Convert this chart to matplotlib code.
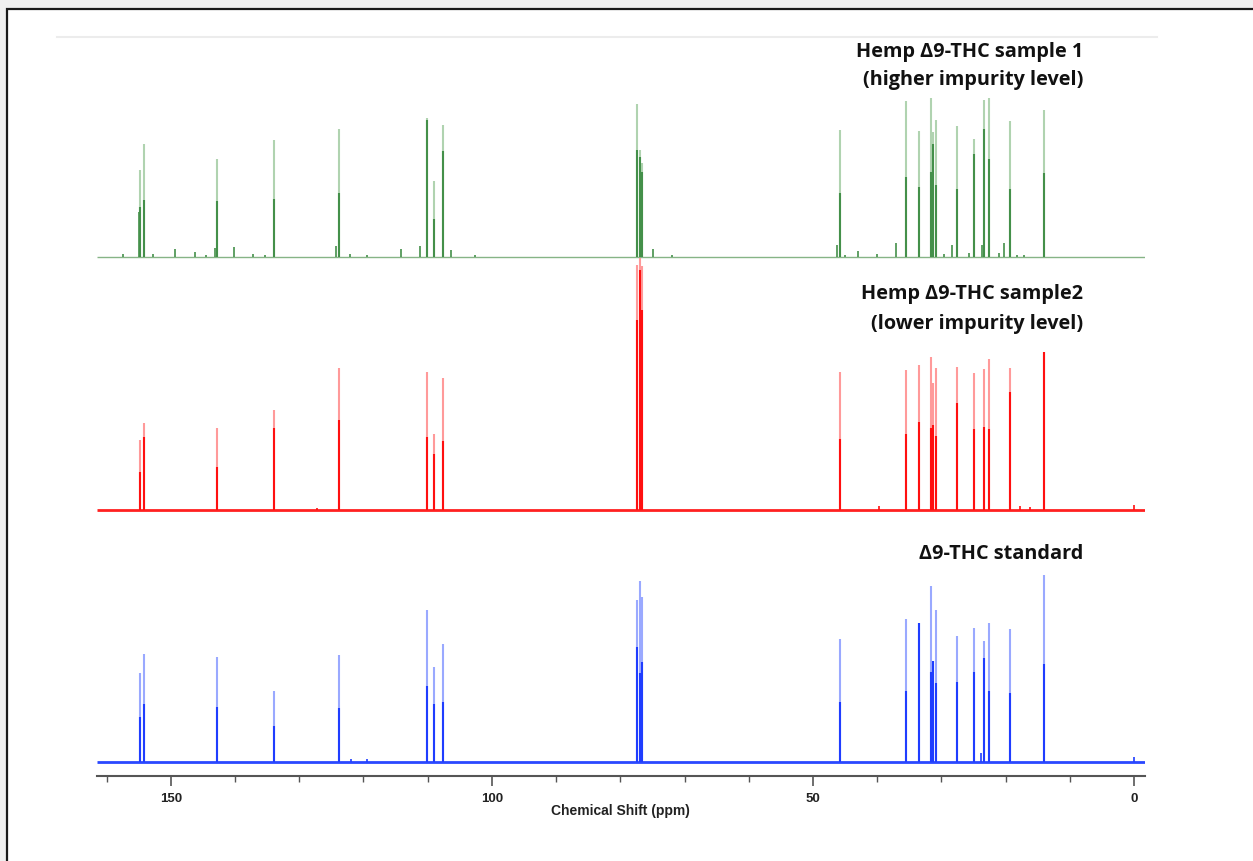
import matplotlib
matplotlib.use('Agg')
import matplotlib.pyplot as plt
from matplotlib.patches import Rectangle
from matplotlib.lines import Line2D
import numpy as np

# 13C NMR peak lists (ppm, apex height, dense-core height)
# heights are in display units above each trace's baseline

# Hemp D9-THC sample 1 (higher impurity level) - green, top
green_ppm = [154.8, 154.2, 142.8, 134.0, 123.8, 110.1, 109.0, 107.6,
             77.4, 77.0, 76.7, 45.8, 35.5, 33.5, 31.6, 31.3, 30.8, 27.6,
             25.0, 23.4, 22.6, 19.3, 14.1]
green_height = [87, 113, 98, 117, 128, 139, 76, 132,
                153, 107, 94, 127, 156, 126, 159, 125, 137, 131,
                118, 157, 159, 136, 147]
green_core = [50, 57, 56, 58, 64, 137, 38, 106,
              107, 100, 85, 64, 80, 70, 85, 113, 72, 68,
              103, 128, 98, 68, 84]
green_imp_ppm = [157.5, 155.0, 152.8, 149.3, 146.3, 144.5, 143.1, 140.2, 137.2,
                 135.4, 124.3, 122.1, 119.5, 114.1, 111.2, 106.3, 102.6, 74.9,
                 72.0, 46.3, 45.0, 43.0, 40.1, 37.1, 29.6, 28.3, 25.7, 23.7,
                 21.0, 20.2, 18.3, 17.2]
green_imp_height = [3, 45, 3, 8, 5, 2, 9, 10, 3,
                    2, 11, 3, 2, 8, 11, 7, 2, 8,
                    2, 12, 2, 6, 3, 14, 3, 12, 4, 12,
                    4, 14, 2, 2]

# Hemp D9-THC sample2 (lower impurity level) - red, middle
red_ppm = [154.8, 154.2, 142.8, 134.0, 123.8, 110.1, 109.0, 107.6,
           77.4, 77.0, 76.7, 45.8, 35.5, 33.5, 31.6, 31.3, 30.8, 27.6,
           25.0, 23.4, 22.6, 19.3, 14.1]
red_height = [70, 87, 82, 100, 142, 138, 76, 132,
              245, 252, 244, 138, 140, 145, 153, 127, 142, 143,
              137, 141, 151, 142, 158]
red_core = [38, 73, 43, 82, 90, 73, 56, 69,
            190, 240, 200, 71, 76, 88, 82, 85, 74, 107,
            81, 83, 81, 118, 158]
red_imp_ppm = [127.3, 39.7, 17.8, 16.2, 0.0]
red_imp_height = [2, 4, 4, 3, 5]

# D9-THC standard - blue, bottom
blue_ppm = [154.8, 154.2, 142.8, 134.0, 123.8, 110.1, 109.0, 107.6,
            77.4, 77.0, 76.7, 45.8, 35.5, 33.5, 31.6, 31.3, 30.8, 27.6,
            25.0, 23.4, 22.6, 19.3, 14.1]
blue_height = [89, 108, 105, 71, 107, 152, 95, 118,
               162, 181, 165, 123, 143, 139, 176, 101, 152, 126,
               134, 121, 139, 133, 187]
blue_core = [45, 58, 55, 36, 54, 76, 58, 60,
             115, 89, 100, 60, 71, 139, 90, 101, 79, 80,
             90, 104, 71, 69, 98]
blue_imp_ppm = [122.0, 119.5, 23.8, 0.0]
blue_imp_height = [3, 3, 9, 5]

trace_labels = ['Hemp \u03949-THC sample 1\n(higher impurity level)',
                'Hemp \u03949-THC sample2\n(lower impurity level)',
                '\u03949-THC standard']

W, H = 1253, 861
fig = plt.figure(figsize=(W / 100, H / 100), dpi=100)
fig.patch.set_facecolor('#f0f0f0')

# white panel with dark frame
fig.add_artist(Rectangle((7 / W, -0.05), 1.05, 1 - 9 / H + 0.05, transform=fig.transFigure,
                         facecolor='white', edgecolor='#1a1a1a', linewidth=1.6, zorder=0))
fig.add_artist(Line2D([57 / W, 1157 / W], [1 - 37 / H, 1 - 37 / H], transform=fig.transFigure,
                      color='#ececec', linewidth=1.5, zorder=1))

ax_bottom = 776
ax_top = 97
ax = fig.add_axes([97 / W, 1 - ax_bottom / H, 1048 / W, (ax_bottom - ax_top) / H])
ax.set_facecolor('none')
ax.set_xlim(161.5, -1.7)
ax.set_ylim(0, ax_bottom - ax_top)

traces = [
    (green_ppm, green_height, green_core, green_imp_ppm, green_imp_height,
     519, '#44904a', '#b0d3b0', '#86b486', 1.0),
    (red_ppm, red_height, red_core, red_imp_ppm, red_imp_height,
     266, '#ff1010', '#ff9a9a', '#ff2020', 2.0),
    (blue_ppm, blue_height, blue_core, blue_imp_ppm, blue_imp_height,
     14, '#1f3dff', '#9aa9ff', '#2a48ff', 2.0),
]

for ppm, hgt, core, ippm, ihgt, base, dark, light, basecol, blw in traces:
    ppm = np.array(ppm)
    hgt = np.array(hgt)
    core = np.array(core)
    ax.hlines(base, 161.5, -1.7, color=basecol, linewidth=blw, zorder=2)
    ax.vlines(ppm, base, base + hgt, color=light, linewidth=1.5, zorder=3)
    ax.vlines(ppm, base, base + core, color=dark, linewidth=1.5, zorder=4)
    ax.vlines(ippm, base, base + np.array(ihgt), color=dark, linewidth=1.2, zorder=4)

for s in ['top', 'left', 'right']:
    ax.spines[s].set_visible(False)
ax.spines['bottom'].set_color('#555555')
ax.spines['bottom'].set_linewidth(1.5)
ax.set_yticks([])
ax.set_xticks([150, 100, 50, 0])
ax.set_xticks(np.arange(160, -1, -10), minor=True)
ax.tick_params(axis='x', which='major', length=7, width=1.2, color='#555555',
               pad=5, labelsize=9.5)
ax.tick_params(axis='x', which='minor', length=4, width=1.0, color='#555555')
for lab in ax.get_xticklabels():
    lab.set_fontweight('bold')
    lab.set_family('Liberation Sans')
    lab.set_color('#222222')

fig.text(620 / W, 1 - 811 / H, 'Chemical Shift (ppm)', ha='center', va='center',
         fontsize=10, fontweight='bold', family='Liberation Sans', color='#222222')

# trace labels
label_font = ['Open Sans', 'DejaVu Sans']
fig.text(1083 / W, 1 - 66 / H, trace_labels[0], ha='right', va='center', fontsize=14.3,
         fontweight='bold', family=label_font, color='#111111', linespacing=1.6,
         multialignment='right')
fig.text(1083 / W, 1 - 309 / H, trace_labels[1], ha='right', va='center', fontsize=14.3,
         fontweight='bold', family=label_font, color='#111111', linespacing=1.6,
         multialignment='right')
fig.text(1083 / W, 1 - 554 / H, trace_labels[2], ha='right', va='center', fontsize=14.3,
         fontweight='bold', family=label_font, color='#111111')

fig.savefig('out.png', dpi=100, facecolor=fig.get_facecolor())
